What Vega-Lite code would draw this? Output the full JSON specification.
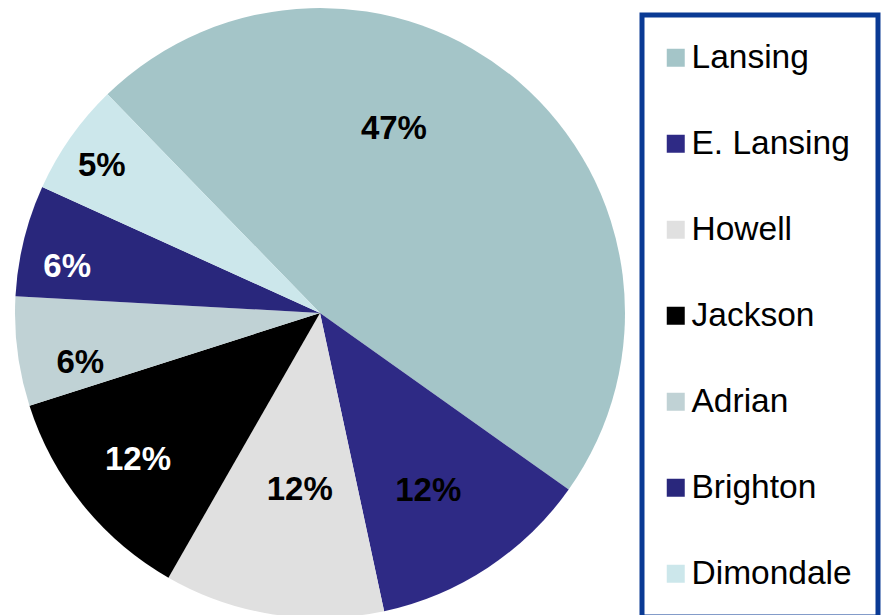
{
  "$schema": "https://vega.github.io/schema/vega-lite/v6.json",
  "width": 640,
  "height": 626,
  "padding": 0,
  "background": "white",
  "config": {"view": {"stroke": null}, "legend": {"strokeWidth": 5}},
  "data": {
    "values": [
      {"city": "Lansing", "value": 47.1, "order": 1, "label": "47%"},
      {"city": "E. Lansing", "value": 11.8, "order": 2, "label": "12%"},
      {"city": "Howell", "value": 11.65, "order": 3, "label": "12%"},
      {"city": "Jackson", "value": 11.8, "order": 4, "label": "12%"},
      {"city": "Adrian", "value": 5.8, "order": 5, "label": "6%"},
      {"city": "Brighton", "value": 5.9, "order": 6, "label": "6%"},
      {"city": "Dimondale", "value": 5.95, "order": 7, "label": "5%"}
    ]
  },
  "encoding": {
    "theta": {"field": "value", "type": "quantitative", "stack": true, "scale": {"range": [-0.771, 5.512]}},
    "order": {"field": "order", "type": "quantitative"}
  },
  "layer": [
    {
      "mark": {"type": "arc", "radius": 305},
      "encoding": {
        "color": {
          "field": "city",
          "type": "nominal",
          "scale": {
            "domain": ["Lansing", "E. Lansing", "Howell", "Jackson", "Adrian", "Brighton", "Dimondale"],
            "range": ["#A4C5C8", "#2E2A85", "#E0E0E0", "#000000", "#C0D2D5", "#29277C", "#CCE7EB"]
          },
          "legend": {
            "title": null,
            "orient": "none",
            "legendX": 642,
            "legendY": 15,
            "symbolType": "square",
            "symbolSize": 324,
            "symbolStrokeWidth": 0,
            "symbolOffset": -9,
            "labelFont": "Liberation Sans",
            "labelFontSize": 33.5,
            "labelColor": "#000000",
            "labelOffset": -1,
            "labelLimit": 300,
            "rowPadding": 51,
            "padding": 26,
            "strokeColor": "#0A3A94",
            "fillColor": "white"
          }
        }
      }
    },
    {
      "mark": {"type": "text", "radius": 198, "thetaOffset": -0.326, "font": "Liberation Sans", "fontSize": 33, "fontWeight": "bold", "align": "center", "baseline": "middle", "color": "black"},
      "encoding": {
        "text": {"condition": {"test": "datum.city === 'Lansing'", "field": "label"}, "value": ""}
      }
    },
    {
      "mark": {"type": "text", "radius": 208, "thetaOffset": 0.035, "font": "Liberation Sans", "fontSize": 33, "fontWeight": "bold", "align": "center", "baseline": "middle", "color": "black"},
      "encoding": {
        "text": {"condition": {"test": "datum.city === 'E. Lansing'", "field": "label"}, "value": ""}
      }
    },
    {
      "mark": {"type": "text", "radius": 178, "thetaOffset": -0.04, "font": "Liberation Sans", "fontSize": 33, "fontWeight": "bold", "align": "center", "baseline": "middle", "color": "black"},
      "encoding": {
        "text": {"condition": {"test": "datum.city === 'Howell'", "field": "label"}, "value": ""}
      }
    },
    {
      "mark": {"type": "text", "radius": 234, "font": "Liberation Sans", "fontSize": 33, "fontWeight": "bold", "align": "center", "baseline": "middle", "color": "white"},
      "encoding": {
        "text": {"condition": {"test": "datum.city === 'Jackson'", "field": "label"}, "value": ""}
      }
    },
    {
      "mark": {"type": "text", "radius": 245, "thetaOffset": -0.08, "font": "Liberation Sans", "fontSize": 33, "fontWeight": "bold", "align": "center", "baseline": "middle", "color": "black"},
      "encoding": {
        "text": {"condition": {"test": "datum.city === 'Adrian'", "field": "label"}, "value": ""}
      }
    },
    {
      "mark": {"type": "text", "radius": 257, "thetaOffset": -0.06, "font": "Liberation Sans", "fontSize": 33, "fontWeight": "bold", "align": "center", "baseline": "middle", "color": "white"},
      "encoding": {
        "text": {"condition": {"test": "datum.city === 'Brighton'", "field": "label"}, "value": ""}
      }
    },
    {
      "mark": {"type": "text", "radius": 263, "thetaOffset": -0.02, "font": "Liberation Sans", "fontSize": 33, "fontWeight": "bold", "align": "center", "baseline": "middle", "color": "black"},
      "encoding": {
        "text": {"condition": {"test": "datum.city === 'Dimondale'", "field": "label"}, "value": ""}
      }
    }
  ]
}
